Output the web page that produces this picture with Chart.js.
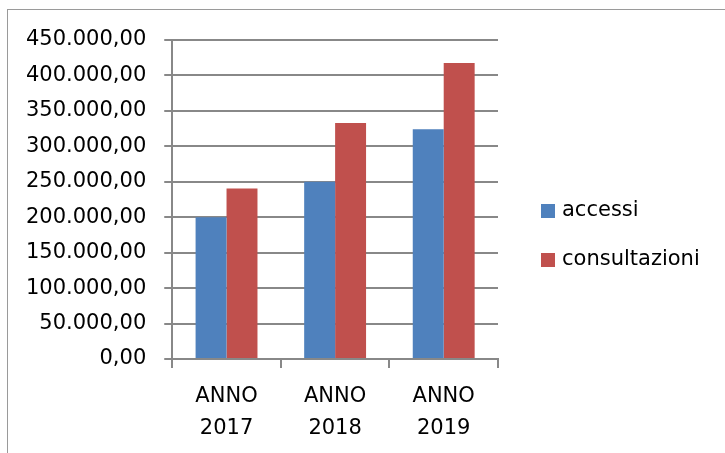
<!DOCTYPE html>
<html>
<head>
<meta charset="utf-8">
<script src="https://cdn.jsdelivr.net/npm/chart.js@4/dist/chart.umd.min.js"></script>
<style>
  html, body { margin: 0; padding: 0; background: #fff; }
  #wrap { position: relative; width: 725px; height: 453px; overflow: hidden; }
  #frame { position: absolute; left: 7px; top: 9px; width: 800px; height: 500px;
           border-left: 1px solid #9a9a9a; border-top: 1px solid #9a9a9a; }
  #myChart { position: absolute; left: 0; top: 0; }
</style>
</head>
<body>
<div id="wrap">
  <div id="frame"></div>
  <canvas id="myChart" width="725" height="453"></canvas>
</div>
<script>
var years = [["ANNO", "2017"], ["ANNO", "2018"], ["ANNO", "2019"]];
var accessi = [200000, 250000, 324000];
var consultazioni = [240500, 333000, 417500];
var yMax = 450000;
var yStep = 50000;

// 450000 -> "450.000,00"
function fmt(v) {
  var s = Math.round(v).toString().replace(/\B(?=(\d{3})+(?!\d))/g, ".");
  return s + ",00";
}

Chart.defaults.font.family = "'DejaVu Sans', sans-serif";
Chart.defaults.color = "#000";

// legend on the right, drawn by hand so the gap to the plot can be wide
var sideLegend = {
  id: "sideLegend",
  afterDraw: function (chart) {
    var ctx = chart.ctx;
    var x = 541;
    var y = 211;
    ctx.save();
    ctx.font = "21px 'DejaVu Sans', sans-serif";
    ctx.textBaseline = "middle";
    chart.data.datasets.forEach(function (ds) {
      ctx.fillStyle = ds.backgroundColor;
      ctx.fillRect(x, y - 7, 14, 14);
      ctx.fillStyle = "#000";
      ctx.fillText(ds.label, x + 21, y);
      y += 49;
    });
    ctx.restore();
  },
};

new Chart("myChart", {
  type: "bar",
  data: {
    labels: years,
    datasets: [
      {
        label: "accessi",
        backgroundColor: "#4f81bd",
        data: accessi,
      },
      {
        label: "consultazioni",
        backgroundColor: "#c0504d",
        data: consultazioni,
      },
    ],
  },
  options: {
    responsive: false,
    animation: false,
    layout: { padding: { left: 8, top: 40, right: 227, bottom: -4 } },
    datasets: { bar: { categoryPercentage: 0.57, barPercentage: 1 } },
    plugins: {
      tooltip: { enabled: false },
      legend: { display: false },
    },
    scales: {
      x: {
        grid: {
          drawOnChartArea: false,
          color: "#888",
          lineWidth: 2,
          tickLength: 9,
        },
        border: { color: "#888", width: 2 },
        ticks: { padding: 13, font: { size: 21, lineHeight: 1.5 } },
      },
      y: {
        min: 0,
        max: yMax,
        grid: { color: "#888", lineWidth: 2, tickLength: 8 },
        border: { color: "#888", width: 2 },
        ticks: {
          stepSize: yStep,
          padding: 18,
          font: { size: 21 },
          callback: function (v) { return fmt(v); },
        },
      },
    },
  },
  plugins: [sideLegend],
});
</script>
</body>
</html>
